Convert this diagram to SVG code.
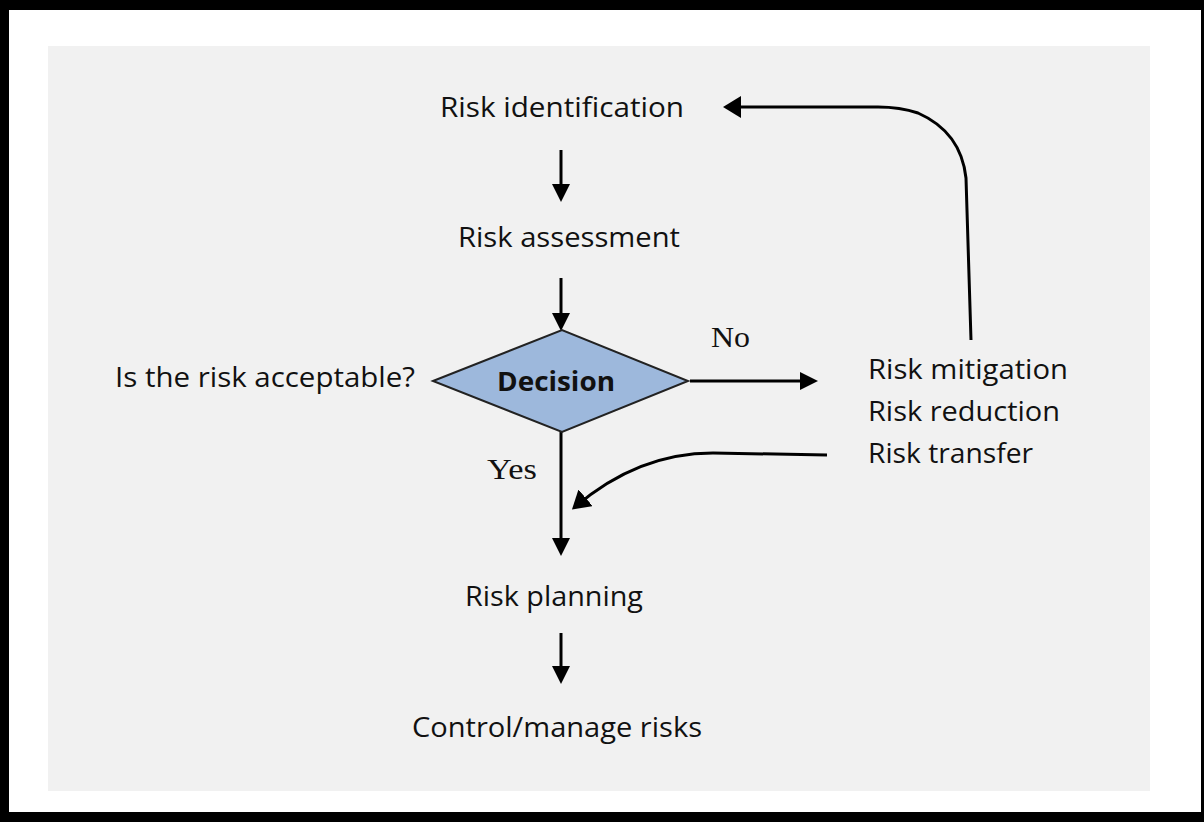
<svg xmlns="http://www.w3.org/2000/svg" width="1204" height="822" viewBox="0 0 1204 822">
  <style>
    .lbl { font-family: "Open Sans", "Liberation Sans", sans-serif; font-size: 28px; fill: #111; }
    .serif { font-family: "Liberation Serif", "Times New Roman", serif; font-size: 30px; fill: #111; }
    .bold { font-family: "Open Sans", "Liberation Sans", sans-serif; font-size: 26px; font-weight: bold; fill: #111; }
    .wire { fill: none; stroke: #000; stroke-width: 3; stroke-linecap: butt; stroke-linejoin: round; }
  </style>
  <defs>
    <marker id="head" markerUnits="userSpaceOnUse" markerWidth="20" markerHeight="20" refX="14" refY="9" orient="auto">
      <path d="M0,0 L18,9 L0,18 Z" fill="#000"/>
    </marker>
    <marker id="headWide" markerUnits="userSpaceOnUse" markerWidth="22" markerHeight="24" refX="14" refY="11" orient="auto">
      <path d="M0,0 L18,11 L0,22 Z" fill="#000"/>
    </marker>
  </defs>

  <!-- frame -->
  <rect x="0" y="0" width="1204" height="822" fill="#000"/>
  <rect x="9" y="10" width="1192" height="802" fill="#fff"/>
  <rect x="48" y="46" width="1102" height="745" fill="#f1f1f1"/>

  <!-- connectors -->
  <g id="connectors">
    <path class="wire" d="M561,150 L561,198" marker-end="url(#head)"/>
    <path class="wire" d="M561,278 L561,327" marker-end="url(#head)"/>
    <path class="wire" d="M561,432 L561,552" marker-end="url(#head)"/>
    <path class="wire" d="M561,633 L561,680" marker-end="url(#head)"/>
    <path class="wire" d="M690,381 L814,381" marker-end="url(#head)"/>
    <path class="wire" d="M971,340 L966,178 Q961,132 918,113 Q900,107 878,107 L727,107" marker-end="url(#headWide)"/>
    <path class="wire" d="M827,455 L713,453 Q638,453 575,507" marker-end="url(#headWide)"/>
  </g>

  <!-- nodes -->
  <g id="risk-identification">
    <text class="lbl" x="440" y="117" textLength="244" lengthAdjust="spacingAndGlyphs">Risk identification</text>
  </g>
  <g id="risk-assessment">
    <text class="lbl" x="458" y="247" textLength="222" lengthAdjust="spacingAndGlyphs">Risk assessment</text>
  </g>
  <g id="decision">
    <polygon points="433,381 562,330 688,381 562,432" fill="#9db8dc" stroke="#222" stroke-width="2"/>
    <text class="bold" x="497" y="391" textLength="118" lengthAdjust="spacingAndGlyphs">Decision</text>
  </g>
  <g id="question">
    <text class="lbl" x="115" y="387" textLength="300" lengthAdjust="spacingAndGlyphs">Is the risk acceptable?</text>
  </g>
  <g id="label-no">
    <text class="serif" x="711" y="347" textLength="39" lengthAdjust="spacingAndGlyphs">No</text>
  </g>
  <g id="label-yes">
    <text class="serif" x="487" y="479" textLength="50" lengthAdjust="spacingAndGlyphs">Yes</text>
  </g>
  <g id="risk-responses">
    <text class="lbl" x="868" y="379" textLength="200" lengthAdjust="spacingAndGlyphs">Risk mitigation</text>
    <text class="lbl" x="868" y="421" textLength="192" lengthAdjust="spacingAndGlyphs">Risk reduction</text>
    <text class="lbl" x="868" y="463" textLength="165" lengthAdjust="spacingAndGlyphs">Risk transfer</text>
  </g>
  <g id="risk-planning">
    <text class="lbl" x="465" y="606" textLength="178" lengthAdjust="spacingAndGlyphs">Risk planning</text>
  </g>
  <g id="control-manage">
    <text class="lbl" x="412" y="737" textLength="290" lengthAdjust="spacingAndGlyphs">Control/manage risks</text>
  </g>
</svg>
